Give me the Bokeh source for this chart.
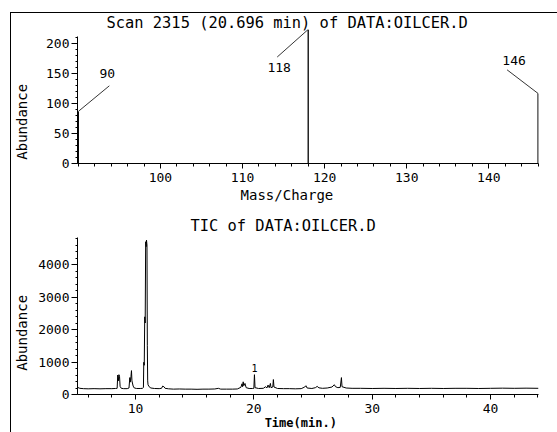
from bokeh.plotting import figure
from bokeh.models import (Range1d, FixedTicker, Label, LabelSet, ColumnDataSource, Div, Spacer)
from bokeh.layouts import column, row
from bokeh.core.properties import value
from bokeh.embed import file_html
from bokeh.resources import INLINE

FONT = "DejaVu Sans Mono"
NB = "\u00a0"

# ---------------- data: mass spectrum (scan 2315) ----------------
ms_title = "Scan 2315 (20.696 min) of DATA:OILCER.D"
ms_xlabel = "Mass/Charge"
ms_ylabel = "Abundance"
ms_mz = [90, 118, 146]
ms_abund = [87, 224, 117]
ms_label = ["90", "118", "146"]
ms_xticks = [100, 110, 120, 130, 140]
ms_yticks = [0, 50, 100, 150, 200]

# ---------------- data: total ion chromatogram ----------------
tic_title = "TIC of DATA:OILCER.D"
tic_xlabel = "Time(min.)"
tic_ylabel = "Abundance"
tic_time = [5.1, 5.3, 5.6, 6.0, 6.5, 7.0, 7.5, 8.0, 8.3, 8.45, 8.5, 8.55, 8.6, 8.65, 8.7, 8.8,
            9.0, 9.3, 9.45, 9.52, 9.56, 9.62, 9.66, 9.7, 9.8, 9.9, 10.1, 10.4, 10.6, 10.67,
            10.7, 10.74, 10.78, 10.82, 10.86, 10.9, 10.93, 10.97, 11.0, 11.03, 11.06, 11.15,
            11.3, 11.6, 12.0, 12.2, 12.3, 12.4, 12.5, 12.8, 13.2, 13.7, 14.2, 14.7, 15.2, 15.7,
            16.2, 16.7, 17.0, 17.2, 17.7, 18.2, 18.6, 18.9, 19.0, 19.05, 19.1, 19.15, 19.25,
            19.35, 19.6, 19.9, 20.0, 20.05, 20.1, 20.4, 20.8, 21.0, 21.1, 21.2, 21.3, 21.4,
            21.45, 21.6, 21.65, 21.7, 22.0, 22.5, 23.0, 23.5, 24.0, 24.3, 24.4, 24.5, 24.9,
            25.2, 25.35, 25.5, 25.8, 26.2, 26.6, 26.8, 26.9, 27.1, 27.3, 27.4, 27.45, 27.8,
            28.3, 29.0, 30.0, 31.0, 32.0, 33.0, 34.0, 35.0, 36.0, 37.0, 38.0, 39.0, 40.0,
            41.0, 42.0, 43.0, 44.05]
tic_abund = [220, 190, 180, 175, 180, 175, 180, 180, 185, 190, 600, 420, 610, 560, 250, 190,
             180, 180, 200, 520, 380, 560, 735, 420, 260, 200, 185, 185, 190, 220,
             990, 900, 2390, 2200, 4700, 4550, 4750, 4600, 1500, 420, 300, 240,
             200, 185, 180, 190, 260, 240, 190, 175, 165, 170, 165, 165, 160, 165,
             165, 170, 190, 165, 165, 165, 170, 220, 330, 240, 390, 270, 340,
             210, 185, 185, 190, 610, 210, 185, 190, 240, 200, 290, 210, 340,
             210, 230, 460, 230, 185, 180, 180, 175, 180, 230, 270, 200, 185,
             210, 250, 205, 190, 200, 230, 300, 240, 210, 220, 520, 240, 200,
             190, 190, 185, 190, 185, 190, 185, 190, 185, 190, 190, 185, 190,
             195, 190, 195, 190]
tic_xticks = [10, 20, 30, 40]
tic_yticks = [0, 1000, 2000, 3000, 4000]
tic_mark_time = [20.05]
tic_mark_abund = [610]
tic_mark_label = ["1"]

# figures start 11 px right and 13 px below the page corner (frame rules drawn by Divs)
W = 546
L, R = 66, 19

# ---------------- top figure ----------------
H1, T1, B1 = 194, 14, 44
x1 = (89.9, 146.05)
y1 = (0, 223.9)
p1 = figure(width=W, height=H1, x_range=Range1d(*x1), y_range=Range1d(*y1),
            output_backend="svg", toolbar_location=None,
            min_border_left=L, min_border_right=R, min_border_top=T1, min_border_bottom=B1)

# ---------------- bottom figure ----------------
H2, T2, B2 = 225, 30, 38
x2 = (5.1, 44.05)
y2 = (0, 4831)
p2 = figure(width=W, height=H2, x_range=Range1d(*x2), y_range=Range1d(*y2),
            output_backend="svg", toolbar_location=None,
            min_border_left=L, min_border_right=R, min_border_top=T2, min_border_bottom=B2)

sx1 = (W - L - R) / (x1[1] - x1[0])
sy1 = (H1 - T1 - B1) / (y1[1] - y1[0])


def style(p, xticks, xminor, yticks, yminor):
    p.xgrid.visible = False
    p.ygrid.visible = False
    p.outline_line_color = None
    p.background_fill_color = "white"
    p.border_fill_color = "white"
    p.xaxis.ticker = FixedTicker(ticks=xticks, minor_ticks=xminor)
    p.yaxis.ticker = FixedTicker(ticks=yticks, minor_ticks=yminor)
    for ax in (p.xaxis, p.yaxis):
        ax.axis_line_color = "black"
        ax.axis_line_width = 1
        ax.major_tick_line_color = "black"
        ax.minor_tick_line_color = "black"
        ax.major_tick_in = 0
        ax.minor_tick_in = 0
        ax.major_label_text_font = FONT
        ax.major_label_text_font_size = "13px"
        ax.major_label_text_color = "black"
        ax.axis_label_text_font = FONT
        ax.axis_label_text_color = "black"
        ax.axis_label_text_font_style = "normal"
        ax.axis_label_text_font_size = "14px"
    p.xaxis.major_tick_out = 5
    p.xaxis.minor_tick_out = 3
    p.xaxis.major_label_standoff = 4
    p.yaxis.major_tick_out = 6
    p.yaxis.minor_tick_out = 2
    p.yaxis.major_label_standoff = 2


def set_title(p, text, offset, standoff):
    p.title.text = text
    p.title.align = "left"
    p.title.offset = offset
    p.title.standoff = standoff
    p.title.text_font = FONT
    p.title.text_font_size = "15.4px"
    p.title.text_font_style = "normal"
    p.title.text_color = "black"


style(p1, ms_xticks, list(range(90, 147, 2)), ms_yticks, list(range(0, 213, 10)))
p1.yaxis.bounds = (0, 212)
style(p2, tic_xticks, list(range(6, 45, 2)), tic_yticks, list(range(0, 4801, 200)))

set_title(p1, ms_title, 29, -4)
set_title(p2, tic_title, 113, 5)

# axis labels (no-break spaces shift the centred labels like the original layout)
p1.xaxis.axis_label = ms_xlabel + NB * 5
p1.xaxis.axis_label_standoff = 2
p1.yaxis.axis_label = ms_ylabel + NB * 6
p1.yaxis.axis_label_standoff = 13
p2.xaxis.axis_label = tic_xlabel + NB * 2
p2.xaxis.axis_label_standoff = 0
p2.xaxis.axis_label_text_font_size = "12px"
p2.xaxis.axis_label_text_font_style = "bold"
p2.yaxis.axis_label = tic_ylabel + NB * 4
p2.yaxis.axis_label_standoff = 5

# spectrum bars
ms_src = ColumnDataSource(dict(mz=ms_mz, ab=ms_abund, zero=[0] * len(ms_mz), lab=ms_label))
p1.segment(x0="mz", y0="zero", x1="mz", y1="ab", source=ms_src, line_color="black", line_width=1.3)

# leader lines and peak labels (pixel offsets from the peak top)
lead_dx = [31, -31, -31]
lead_dy = [26, -28, 24]
lab_dx = [29, -29, -24]
lab_dy = [38, -38, 33]
p1.segment(x0=ms_mz, y0=ms_abund,
           x1=[m + dx / sx1 for m, dx in zip(ms_mz, lead_dx)],
           y1=[a + dy / sy1 for a, dy in zip(ms_abund, lead_dy)],
           line_color="black", line_width=0.8)
for m, a, t, dx, dy in zip(ms_mz, ms_abund, ms_label, lab_dx, lab_dy):
    p1.add_layout(Label(x=m, y=a, text=t, x_offset=dx, y_offset=dy, text_align="center",
                        text_baseline="middle", text_font=FONT, text_font_size="13px",
                        text_color="black"))

# TIC trace
p2.line(tic_time, tic_abund, line_color="black", line_width=1)
mk = ColumnDataSource(dict(t=tic_mark_time, a=tic_mark_abund, lab=tic_mark_label))
p2.add_layout(LabelSet(x="t", y="a", text="lab", source=mk, y_offset=7, text_align="center",
                       text_baseline="middle", text_font=value(FONT), text_font_size="10px",
                       text_color="black"))

# page layout with the top and left frame rules
top_rule = Div(width=547, height=1, margin=0, styles={"background-color": "black"})
left_rule = Div(width=1, height=419, margin=0, styles={"background-color": "black"})
layout = row(Spacer(width=10, height=432, margin=0),
             column(Spacer(width=547, height=12, margin=0), top_rule,
                    row(left_rule, column(p1, p2, spacing=0), spacing=0), spacing=0),
             spacing=0)
open("out.html", "w").write(file_html(layout, INLINE))
